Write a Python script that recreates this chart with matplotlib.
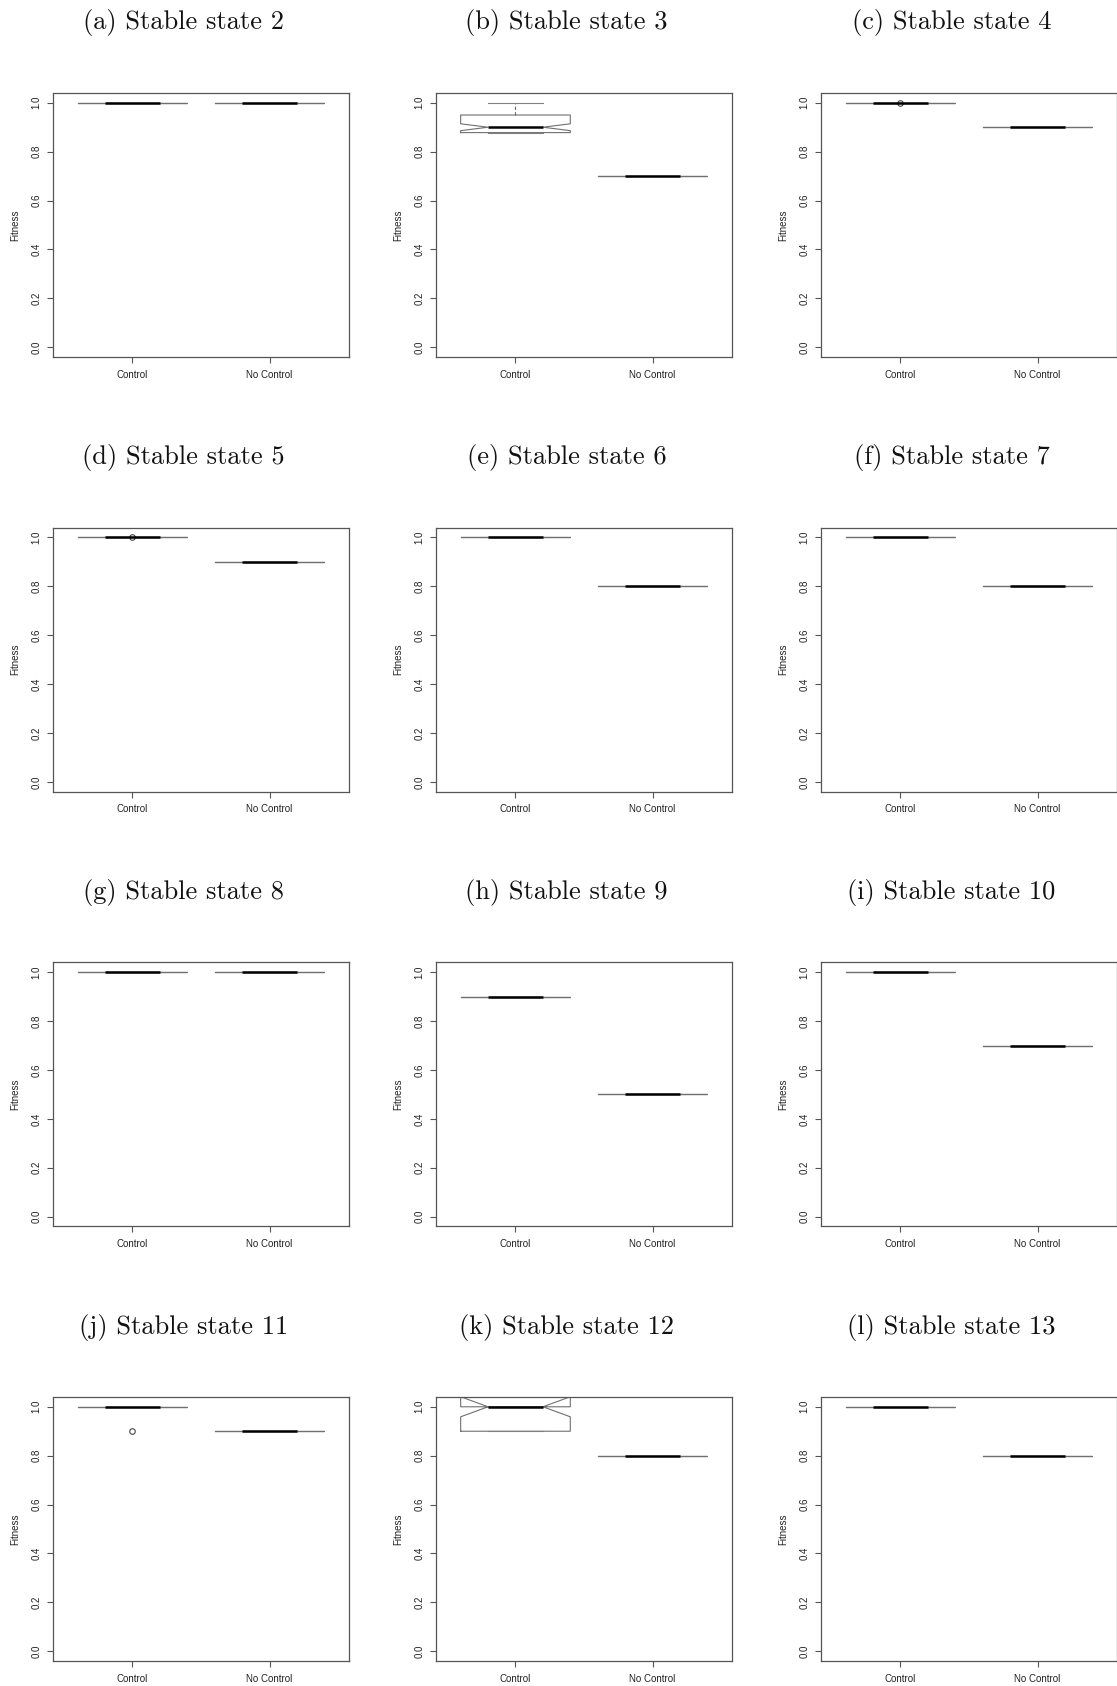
import matplotlib
matplotlib.use("Agg")
import matplotlib.pyplot as plt

plt.rcParams['font.family'] = ['Liberation Sans', 'DejaVu Sans']

# ---- data -------------------------------------------------------------
panel_letters = list("abcdefghijkl")
stable_states = [2, 3, 4, 5, 6, 7, 8, 9, 10, 11, 12, 13]
groups = ["Control", "No Control"]
y_ticks = [0.0, 0.2, 0.4, 0.6, 0.8, 1.0]
y_tick_labels = ["0.0", "0.2", "0.4", "0.6", "0.8", "1.0"]

# Control group: box-plot summaries (whiskers, hinges, median, notch limits)
control_whislo = [1.0, 0.878, 1.0, 1.0, 1.0, 1.0, 1.0, 0.9, 1.0, 1.0, 0.9, 1.0]
control_q1     = [1.0, 0.878, 1.0, 1.0, 1.0, 1.0, 1.0, 0.9, 1.0, 1.0, 0.9, 1.0]
control_med    = [1.0, 0.9,   1.0, 1.0, 1.0, 1.0, 1.0, 0.9, 1.0, 1.0, 1.0, 1.0]
control_q3     = [1.0, 0.95,  1.0, 1.0, 1.0, 1.0, 1.0, 0.9, 1.0, 1.0, 1.0, 1.0]
control_whishi = [1.0, 1.0,   1.0, 1.0, 1.0, 1.0, 1.0, 0.9, 1.0, 1.0, 1.0, 1.0]
control_cilo   = [1.0, 0.886, 1.0, 1.0, 1.0, 1.0, 1.0, 0.9, 1.0, 1.0, 0.959, 1.0]
control_cihi   = [1.0, 0.914, 1.0, 1.0, 1.0, 1.0, 1.0, 0.9, 1.0, 1.0, 1.041, 1.0]
control_outliers = [[], [], [1.0], [1.0], [], [], [], [], [], [0.9], [], []]

# No-control group: every run reached the same fitness
no_control_level = [1.0, 0.7, 0.9, 0.9, 0.8, 0.8, 1.0, 0.5, 0.7, 0.9, 0.8, 0.8]

# ---- layout (pixels) --------------------------------------------------
W, H = 1117, 1686
col_left = [53, 436, 821]
ax_w = 296
row_top = [93, 527.7, 962.4, 1397]
ax_h = 264

fig = plt.figure(figsize=(W / 100, H / 100), dpi=100)

frame_col = "#555555"
text_col = "#222222"

for i, state in enumerate(stable_states):
    r, c = divmod(i, 3)
    left, top = col_left[c], row_top[r]
    ax = fig.add_axes([left / W, 1 - (top + ax_h) / H, ax_w / W, ax_h / H])

    stats_control = dict(
        whislo=control_whislo[i], q1=control_q1[i], med=control_med[i],
        q3=control_q3[i], whishi=control_whishi[i],
        cilo=control_cilo[i], cihi=control_cihi[i],
        fliers=control_outliers[i], label=groups[0])
    lvl = no_control_level[i]
    stats_nc = dict(whislo=lvl, q1=lvl, med=lvl, q3=lvl, whishi=lvl,
                    cilo=lvl, cihi=lvl, fliers=[], label=groups[1])

    ax.bxp([stats_control, stats_nc], positions=[1, 2], widths=0.8,
           shownotches=True, showfliers=True,
           boxprops=dict(color="#707070", lw=0.8),
           whiskerprops=dict(color="#666666", lw=0.8, linestyle=(0, (3, 2))),
           capprops=dict(color="#808080", lw=0.8),
           medianprops=dict(color="black", lw=1.8, solid_capstyle="butt"),
           flierprops=dict(marker="o", markerfacecolor="none",
                           markeredgecolor="#444444", markersize=4,
                           markeredgewidth=0.8))

    ax.set_xlim(0.42, 2.58)
    ax.set_ylim(-0.04, 1.04)
    ax.set_xticks([1, 2])
    ax.set_xticklabels(groups)
    ax.set_yticks(y_ticks)
    ax.set_yticklabels(y_tick_labels, rotation=90, va="center")

    for sp in ax.spines.values():
        sp.set_color(frame_col)
        sp.set_linewidth(0.9)
    ax.tick_params(axis="both", direction="out", length=4, width=0.8,
                   color=frame_col, labelsize=7, labelcolor=text_col)
    ax.tick_params(axis="x", pad=5)
    ax.tick_params(axis="y", pad=4.5)

    ax.set_ylabel("Fitness", fontsize=7, color=text_col)
    ax.yaxis.set_label_coords(-0.111, 0.5)

    title_y = 23 + r * 434.7
    fig.text((left + ax_w / 2 - 17.5) / W, 1 - title_y / H,
             f"({panel_letters[i]}) Stable state {state}",
             family="cmr10", fontsize=19, ha="center", va="center",
             color="#111111")

fig.savefig("out.png", dpi=100, facecolor="white")
